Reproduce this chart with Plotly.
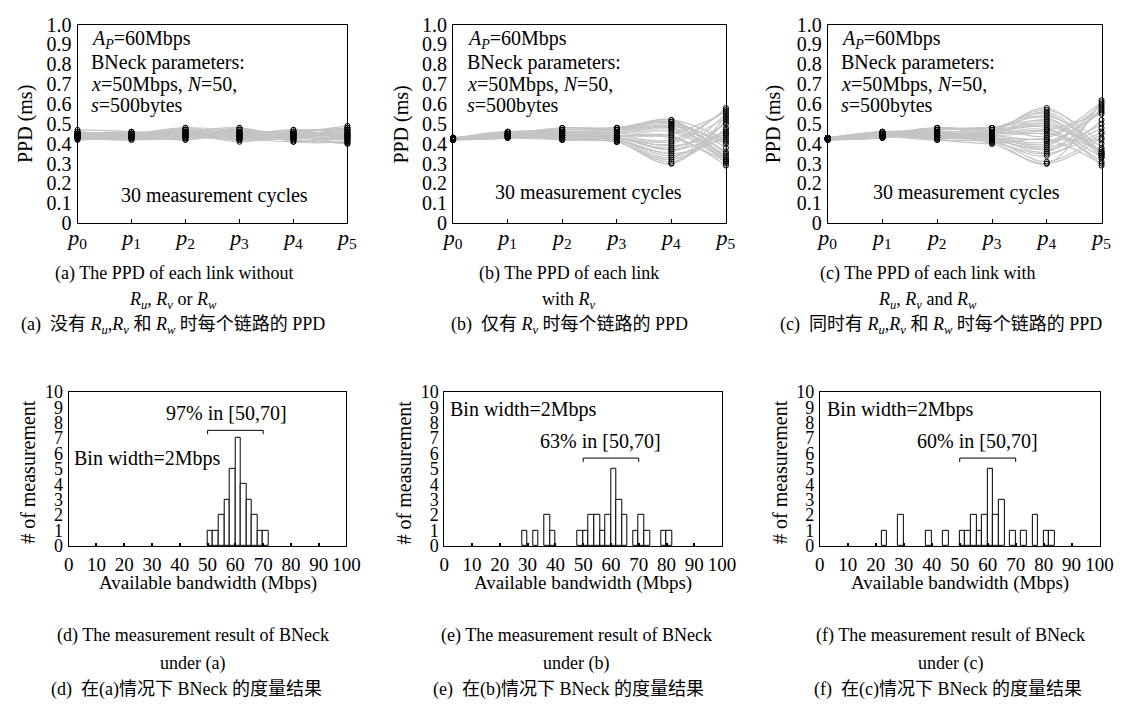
import plotly.graph_objects as go

# ---------------- data ----------------
points = ["p0", "p1", "p2", "p3", "p4", "p5"]
point_labels = ["<i>p</i><sub>0</sub>", "<i>p</i><sub>1</sub>", "<i>p</i><sub>2</sub>",
                "<i>p</i><sub>3</sub>", "<i>p</i><sub>4</sub>", "<i>p</i><sub>5</sub>"]

# panel (a): PPD (ms) of 30 measurement cycles at p0..p5
a_p0 = [0.43,0.44,0.45,0.46,0.47,0.42,0.43,0.44,0.45,0.44,0.43,0.45,0.46,0.44,0.43,0.44,0.45,0.43,0.44,0.46,0.42,0.44,0.45,0.43,0.44,0.45,0.44,0.43,0.46,0.44]
a_p1 = [0.44,0.43,0.45,0.44,0.46,0.43,0.42,0.45,0.44,0.43,0.45,0.44,0.45,0.43,0.44,0.46,0.44,0.42,0.45,0.44,0.43,0.45,0.44,0.44,0.43,0.46,0.45,0.44,0.43,0.45]
a_p2 = [0.45,0.44,0.46,0.47,0.43,0.44,0.45,0.48,0.42,0.46,0.44,0.45,0.47,0.43,0.46,0.44,0.45,0.43,0.47,0.45,0.44,0.46,0.42,0.45,0.48,0.44,0.46,0.45,0.43,0.47]
a_p3 = [0.44,0.46,0.43,0.45,0.48,0.42,0.45,0.44,0.47,0.43,0.46,0.41,0.45,0.44,0.47,0.43,0.45,0.46,0.42,0.44,0.47,0.43,0.45,0.44,0.46,0.42,0.48,0.44,0.45,0.43]
a_p4 = [0.45,0.43,0.44,0.46,0.42,0.45,0.47,0.43,0.44,0.41,0.46,0.44,0.45,0.43,0.42,0.46,0.44,0.45,0.43,0.47,0.44,0.42,0.45,0.46,0.43,0.44,0.41,0.45,0.44,0.46]
a_p5 = [0.46,0.42,0.44,0.48,0.41,0.45,0.47,0.43,0.40,0.44,0.49,0.42,0.45,0.47,0.41,0.44,0.46,0.43,0.48,0.42,0.45,0.40,0.44,0.47,0.43,0.46,0.41,0.45,0.48,0.43]

# panel (b)
b_p0 = [0.42,0.43,0.42,0.425,0.43,0.42,0.425,0.43,0.42,0.425,0.43,0.42,0.425,0.43,0.42,0.425,0.43,0.42,0.425,0.43,0.42,0.425,0.43,0.42,0.425,0.43,0.42,0.425,0.43,0.42]
b_p1 = [0.44,0.45,0.43,0.46,0.44,0.45,0.43,0.44,0.46,0.45,0.44,0.43,0.45,0.44,0.46,0.43,0.45,0.44,0.45,0.43,0.44,0.46,0.45,0.44,0.43,0.45,0.44,0.46,0.44,0.45]
b_p2 = [0.44,0.46,0.42,0.47,0.45,0.43,0.48,0.44,0.46,0.42,0.45,0.47,0.43,0.44,0.46,0.45,0.42,0.47,0.44,0.43,0.46,0.45,0.48,0.44,0.43,0.45,0.46,0.42,0.47,0.44]
b_p3 = [0.43,0.47,0.41,0.48,0.44,0.42,0.47,0.43,0.45,0.41,0.44,0.48,0.42,0.43,0.46,0.44,0.41,0.47,0.43,0.42,0.45,0.44,0.48,0.43,0.42,0.44,0.46,0.41,0.47,0.43]
b_p4 = [0.37,0.52,0.30,0.50,0.45,0.34,0.51,0.40,0.48,0.32,0.43,0.52,0.36,0.38,0.49,0.44,0.31,0.50,0.41,0.35,0.47,0.42,0.51,0.39,0.33,0.46,0.49,0.30,0.48,0.37]
b_p5 = [0.45,0.32,0.52,0.30,0.56,0.44,0.38,0.58,0.33,0.47,0.31,0.42,0.55,0.50,0.36,0.29,0.48,0.40,0.53,0.43,0.32,0.57,0.35,0.46,0.51,0.31,0.41,0.54,0.34,0.45]

# panel (c)
c_p0 = [0.42,0.425,0.43,0.42,0.425,0.43,0.42,0.425,0.43,0.42,0.425,0.43,0.42,0.425,0.43,0.42,0.425,0.43,0.42,0.425,0.43,0.42,0.425,0.43,0.42,0.425,0.43,0.42,0.425,0.43]
c_p1 = [0.44,0.45,0.43,0.46,0.44,0.45,0.43,0.44,0.46,0.45,0.44,0.43,0.45,0.44,0.46,0.43,0.45,0.44,0.45,0.43,0.44,0.46,0.45,0.44,0.43,0.45,0.44,0.46,0.44,0.45]
c_p2 = [0.45,0.43,0.47,0.44,0.48,0.42,0.46,0.44,0.47,0.43,0.45,0.48,0.42,0.46,0.44,0.45,0.43,0.47,0.44,0.46,0.42,0.45,0.48,0.43,0.46,0.44,0.47,0.45,0.43,0.46]
c_p3 = [0.46,0.41,0.48,0.43,0.47,0.40,0.45,0.42,0.48,0.43,0.44,0.47,0.41,0.46,0.43,0.45,0.42,0.48,0.44,0.40,0.46,0.43,0.45,0.47,0.42,0.44,0.48,0.41,0.45,0.43]
c_p4 = [0.58,0.30,0.55,0.36,0.50,0.42,0.47,0.31,0.53,0.39,0.45,0.57,0.34,0.48,0.41,0.52,0.37,0.44,0.56,0.30,0.49,0.40,0.46,0.54,0.38,0.43,0.51,0.35,0.47,0.42]
c_p5 = [0.35,0.62,0.34,0.58,0.36,0.30,0.55,0.45,0.33,0.60,0.37,0.40,0.52,0.29,0.56,0.35,0.48,0.61,0.34,0.43,0.36,0.57,0.31,0.38,0.50,0.59,0.35,0.46,0.33,0.42]

# histograms: left edge of each 2 Mbps bin and count
hist_d_left = [50, 52, 54, 56, 58, 60, 62, 64, 66, 68, 70]
hist_d_count = [1, 1, 2, 3, 5, 7, 4, 3, 2, 1, 1]
hist_e_left = [28, 32, 36, 38, 48, 50, 52, 54, 56, 58, 60, 62, 64, 68, 70, 72, 78, 80]
hist_e_count = [1, 1, 2, 1, 1, 1, 2, 2, 1, 2, 5, 3, 2, 1, 2, 1, 1, 1]
hist_f_left = [22, 28, 38, 44, 50, 52, 54, 56, 58, 60, 62, 64, 68, 72, 76, 80, 82]
hist_f_count = [1, 2, 1, 1, 1, 1, 2, 1, 2, 5, 2, 3, 1, 1, 2, 1, 1]
bin_width = 2

bracket_range = [50, 70]
pct_labels = ["97% in [50,70]", "63% in [50,70]", "60% in [50,70]"]
bracket_y = [7.5, 5.7, 5.7]

# ---------------- helpers ----------------
W, H = 1140, 710
def px(x):
    return x / W
def py(y):
    return 1 - y / H

SERIF = "Liberation Serif, Times New Roman, serif"
CJK = "Liberation Serif, Noto Sans CJK SC, serif"

fig = go.Figure()

xpos = list(range(len(points)))
panels = [
    ([a_p0, a_p1, a_p2, a_p3, a_p4, a_p5], "x", "y"),
    ([b_p0, b_p1, b_p2, b_p3, b_p4, b_p5], "x2", "y2"),
    ([c_p0, c_p1, c_p2, c_p3, c_p4, c_p5], "x3", "y3"),
]
for pts, xa, ya in panels:
    n = len(pts[0])
    for i in range(n):
        fig.add_trace(go.Scatter(
            x=xpos, y=[pts[j][i] for j in range(len(pts))], mode="lines",
            line=dict(color="#c4c4c4", width=1.2, shape="spline", smoothing=1.0),
            xaxis=xa, yaxis=ya, showlegend=False, hoverinfo="skip"))
    mx, my = [], []
    for j in range(len(pts)):
        mx += [xpos[j]] * len(pts[j])
        my += pts[j]
    fig.add_trace(go.Scatter(
        x=mx, y=my, mode="markers", cliponaxis=False,
        marker=dict(symbol="circle-open", size=5, color="black", line=dict(width=1, color="black")),
        xaxis=xa, yaxis=ya, showlegend=False, hoverinfo="skip"))

hists = [(hist_d_left, hist_d_count, "x4", "y4"),
         (hist_e_left, hist_e_count, "x5", "y5"),
         (hist_f_left, hist_f_count, "x6", "y6")]
for left, cnt, xa, ya in hists:
    fig.add_trace(go.Bar(
        x=[l + bin_width / 2 for l in left], y=cnt, width=bin_width,
        marker=dict(color="white", line=dict(color="black", width=1)),
        xaxis=xa, yaxis=ya, showlegend=False, hoverinfo="skip"))

# ---------------- axes ----------------
top_x_dom = [[68, 344], [452, 731], [835, 1115]]
top_y_dom = [py(219), py(14)]
bot_x_dom = [[59, 343], [443, 727], [827, 1113]]
bot_y_dom = [py(552), py(393)]

ytv = [round(0.1 * k, 1) for k in range(11)]
ytt = ["0"] + [f"{v:.1f}" for v in ytv[1:]]

layout = dict(width=W, height=H, margin=dict(l=0, r=0, t=0, b=0),
              plot_bgcolor="white", paper_bgcolor="white", showlegend=False,
              bargap=0)
for k in range(3):
    xs = "xaxis" if k == 0 else f"xaxis{k+1}"
    ys = "yaxis" if k == 0 else f"yaxis{k+1}"
    yname = "y" if k == 0 else f"y{k+1}"
    xname = "x" if k == 0 else f"x{k+1}"
    layout[xs] = dict(domain=[px(top_x_dom[k][0]), px(top_x_dom[k][1])], anchor=yname,
                      range=[0, 5], tickvals=xpos, ticktext=point_labels, tickangle=0,
                      showline=True, mirror=True, linecolor="black", linewidth=1,
                      ticks="inside", ticklen=4, tickcolor="black", showgrid=False,
                      zeroline=False, ticklabelstandoff=-6,
                      tickfont=dict(family=SERIF, size=22, color="black"))
    layout[ys] = dict(domain=top_y_dom, anchor=xname, range=[0, 1.0],
                      tickvals=ytv, ticktext=ytt, showline=True, mirror=True,
                      linecolor="black", linewidth=1, ticks="", showgrid=False,
                      zeroline=False, ticklabelstandoff=1,
                      tickfont=dict(family=SERIF, size=20, color="black"))
for k in range(3):
    xs = f"xaxis{k+4}"
    ys = f"yaxis{k+4}"
    layout[xs] = dict(domain=[px(bot_x_dom[k][0]), px(bot_x_dom[k][1])], anchor=f"y{k+4}",
                      range=[0, 100], tickvals=list(range(0, 101, 10)), tickangle=0,
                      showline=True, mirror=True, linecolor="black", linewidth=1,
                      ticks="inside", ticklen=3, tickwidth=2, tickcolor="black",
                      showgrid=False, zeroline=False, ticklabelstandoff=1,
                      tickfont=dict(family=SERIF, size=19, color="black"))
    layout[ys] = dict(domain=bot_y_dom, anchor=f"x{k+4}", range=[0, 10],
                      tickvals=list(range(0, 11)), showline=True, mirror=True,
                      linecolor="black", linewidth=1, ticks="", showgrid=False,
                      zeroline=False, ticklabelstandoff=1,
                      tickfont=dict(family=SERIF, size=18, color="black"))
fig.update_layout(**layout)

# ---------------- annotations ----------------
ann = []
def add_text(text, x, y, size=20, xanchor="center", yanchor="middle", angle=0, family=SERIF,
             xref="paper", yref="paper"):
    ann.append(dict(text=text, x=x, y=y, xref=xref, yref=yref, showarrow=False,
                    xanchor=xanchor, yanchor=yanchor, textangle=angle,
                    font=dict(family=family, size=size, color="black")))

param_lines = ["<i>A</i><sub><i>P</i></sub>=60Mbps", "BNeck parameters:",
               "<i>x</i>=50Mbps, <i>N</i>=50,", "<i>s</i>=500bytes"]
param_x = [80, 464, 847]
param_y = [29, 53, 76, 98]
cyc_pos = [(208, 190), (590, 187), (977, 187)]
ytitle_top_x = [15, 399, 779]
for k in range(3):
    for line, yy in zip(param_lines, param_y):
        add_text(line, px(param_x[k]), py(yy), xanchor="left")
    add_text("30 measurement cycles", px(cyc_pos[k][0]), py(cyc_pos[k][1]))
    add_text("PPD (ms)", px(ytitle_top_x[k]), py(117), angle=-90)

# histogram texts
ytitle_bot_x = [18, 402, 787]
bin_pos = [(62, 462), (447, 411), (832, 411)]
pct_pos = [56.7, 56.3, 56.5]
for k in range(3):
    add_text("# of measurement", px(ytitle_bot_x[k]), py(476), angle=-90)
    cx = (bot_x_dom[k][0] + bot_x_dom[k][1]) / 2
    add_text("Available bandwidth (Mbps)", px(cx), py(590), size=19)
    add_text("Bin width=2Mbps", px(bin_pos[k][0]), py(bin_pos[k][1]), xanchor="left")
    add_text(pct_labels[k], pct_pos[k], bracket_y[k] + 1.1, xref=f"x{k+4}", yref=f"y{k+4}")

# captions
cap_top = [
    ["(a) The PPD of each link without", "(b) The PPD of each link", "(c) The PPD of each link with"],
    ["<i>R<sub>u</sub></i>, <i>R<sub>v</sub></i> or <i>R<sub>w</sub></i>", "with <i>R<sub>v</sub></i>",
     "<i>R<sub>u</sub></i>, <i>R<sub>v</sub></i> and <i>R<sub>w</sub></i>"],
    ["(a)  没有 <i>R<sub>u</sub></i>,<i>R<sub>v</sub></i> 和 <i>R<sub>w</sub></i> 时每个链路的 PPD",
     "(b)  仅有 <i>R<sub>v</sub></i> 时每个链路的 PPD",
     "(c)  同时有 <i>R<sub>u</sub></i>,<i>R<sub>v</sub></i> 和 <i>R<sub>w</sub></i> 时每个链路的 PPD"],
]
cap_top_x = [[167, 571, 938], [166, 570, 937], [166, 571, 951]]
cap_top_y = [271, 299, 325]
for r in range(3):
    for k in range(3):
        add_text(cap_top[r][k], px(cap_top_x[r][k]), py(cap_top_y[r]), size=18, family=CJK)

cap_bot = [
    ["(d) The measurement result of BNeck", "(e) The measurement result of BNeck",
     "(f) The measurement result of BNeck"],
    ["under (a)", "under (b)", "under (c)"],
    ["(d)  在(a)情况下 BNeck 的度量结果", "(e)  在(b)情况下 BNeck 的度量结果",
     "(f)  在(c)情况下 BNeck 的度量结果"],
]
cap_bot_x = [[186, 578, 961], [186, 578, 961], [179, 570, 958]]
cap_bot_y = [644, 673, 700]
for r in range(3):
    for k in range(3):
        add_text(cap_bot[r][k], px(cap_bot_x[r][k]), py(cap_bot_y[r]), size=18, family=CJK)

fig.update_layout(annotations=ann)

# brackets
shapes = []
for k in range(3):
    x0, x1 = bracket_range
    yb = bracket_y[k]
    shapes.append(dict(type="path", xref=f"x{k+4}", yref=f"y{k+4}",
                       path=f"M {x0},{yb-0.25} L {x0},{yb} L {x1},{yb} L {x1},{yb-0.25}",
                       line=dict(color="black", width=1)))
fig.update_layout(shapes=shapes)

fig.write_html("out.html")
